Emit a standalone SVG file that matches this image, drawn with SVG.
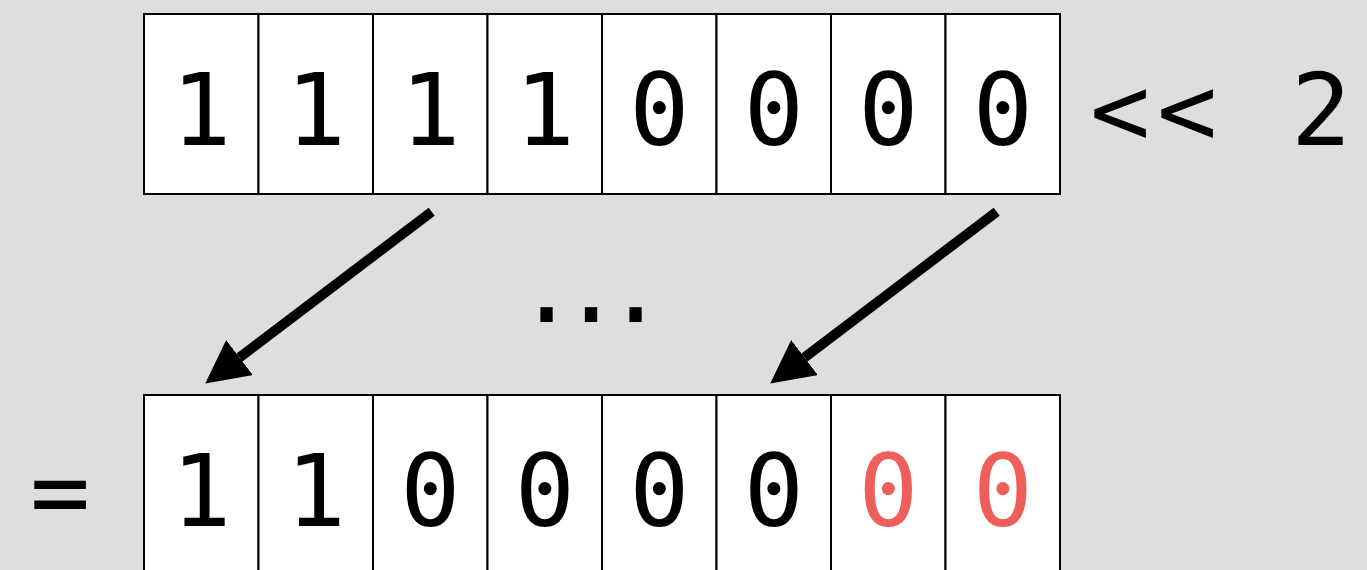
<svg xmlns="http://www.w3.org/2000/svg" width="1367" height="570" viewBox="0 0 1367 570">
  <style>
    .cell { fill: #ffffff; stroke: #000000; stroke-width: 2; }
    .bit { font-family: "DejaVu Sans Mono", "Liberation Mono", monospace; font-size: 100px; text-anchor: middle; fill: #000000; }
    .pad { fill: #ee5f5b; }
    .op { font-family: "DejaVu Sans Mono", "Liberation Mono", monospace; font-size: 100px; text-anchor: middle; fill: #000000; }
    .arrow { stroke: #000000; stroke-width: 10; fill: none; marker-end: url(#head); }
  </style>
  <defs>
    <marker id="head" markerUnits="userSpaceOnUse" viewBox="0 0 43 44" markerWidth="43" markerHeight="44" refX="0" refY="22" orient="auto">
      <path d="M0,0 L43,22 L0,44 Z" fill="#000000"/>
    </marker>
  </defs>
  <rect width="1367" height="570" fill="#dddee0"/>

  <!-- input byte: 11110000 -->
  <g id="input">
    <rect class="cell" x="144" y="14" width="114.5" height="180"/>
    <rect class="cell" x="258.5" y="14" width="114.5" height="180"/>
    <rect class="cell" x="373" y="14" width="114.5" height="180"/>
    <rect class="cell" x="487.5" y="14" width="114.5" height="180"/>
    <rect class="cell" x="602" y="14" width="114.5" height="180"/>
    <rect class="cell" x="716.5" y="14" width="114.5" height="180"/>
    <rect class="cell" x="831" y="14" width="114.5" height="180"/>
    <rect class="cell" x="945.5" y="14" width="114.5" height="180"/>
    <text class="bit" x="201.25 315.75 430.25 544.75 659.25 773.75 888.25 1002.75" y="145">11110000</text>
  </g>

  <!-- shift operator -->
  <g id="shift">
    <text class="op" x="1120 1187 1254 1321" y="145">&lt;&lt; 2</text>
  </g>

  <!-- result byte: 11000000 -->
  <g id="result">
    <text class="op" x="60" y="526">=</text>
    <rect class="cell" x="144" y="395" width="114.5" height="180"/>
    <rect class="cell" x="258.5" y="395" width="114.5" height="180"/>
    <rect class="cell" x="373" y="395" width="114.5" height="180"/>
    <rect class="cell" x="487.5" y="395" width="114.5" height="180"/>
    <rect class="cell" x="602" y="395" width="114.5" height="180"/>
    <rect class="cell" x="716.5" y="395" width="114.5" height="180"/>
    <rect class="cell" x="831" y="395" width="114.5" height="180"/>
    <rect class="cell" x="945.5" y="395" width="114.5" height="180"/>
    <text class="bit" x="201.25 315.75 430.25 544.75 659.25 773.75" y="526">110000</text>
    <text class="bit pad" x="888.25 1002.75" y="526">00</text>
  </g>

  <!-- ellipsis between the rows -->
  <g id="ellipsis">
    <text class="op" font-size="80" x="546.7 591 635.7" y="322">...</text>
  </g>

  <!-- bit movement arrows -->
  <g id="connectors">
    <line class="arrow" x1="431.7" y1="211.7" x2="239.5" y2="357.5"/>
    <line class="arrow" x1="996.7" y1="211.7" x2="804.5" y2="357.5"/>
  </g>
</svg>
